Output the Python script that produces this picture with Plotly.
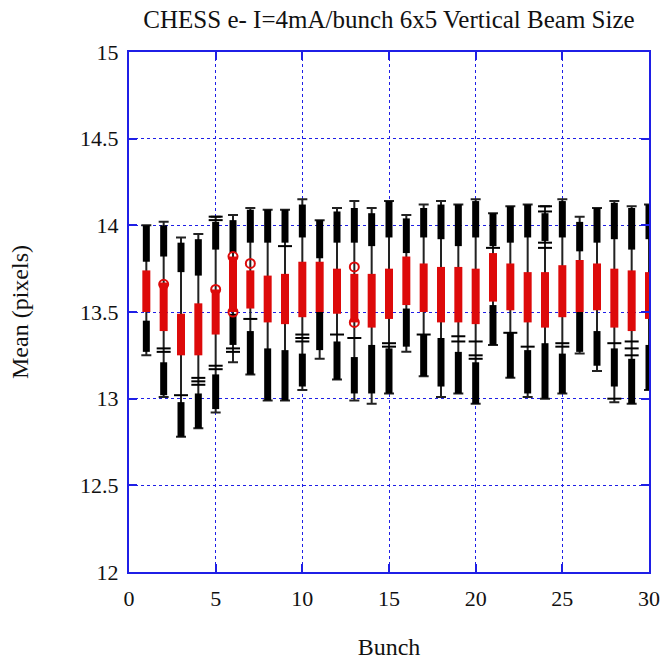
import plotly.graph_objects as go

bunch = list(range(1, 31))

top_hi = [14.00, 14.00, 13.90, 13.92, 14.02, 14.03, 14.09, 14.09, 14.09, 14.12,
          14.03, 14.08, 14.10, 14.07, 14.14, 14.04, 14.10, 14.12, 14.12, 14.14,
          14.07, 14.11, 14.12, 14.07, 14.14, 14.02, 14.10, 14.13, 14.10, 14.12]
top_lo = [13.79, 13.82, 13.73, 13.71, 13.86, 13.84, 13.90, 13.90, 13.90, 13.93,
          13.81, 13.90, 13.90, 13.88, 13.93, 13.84, 13.93, 13.92, 13.88, 13.93,
          13.88, 13.90, 13.93, 13.91, 13.93, 13.85, 13.90, 13.92, 13.86, 13.92]
red_hi = [13.74, 13.67, 13.49, 13.55, 13.63, 13.82, 13.74, 13.71, 13.72, 13.79,
          13.79, 13.75, 13.72, 13.72, 13.75, 13.82, 13.78, 13.76, 13.76, 13.75,
          13.84, 13.78, 13.73, 13.73, 13.77, 13.80, 13.78, 13.75, 13.74, 13.73]
red_lo = [13.50, 13.39, 13.25, 13.25, 13.37, 13.50, 13.52, 13.44, 13.43, 13.47,
          13.50, 13.49, 13.44, 13.41, 13.46, 13.54, 13.50, 13.44, 13.44, 13.43,
          13.56, 13.51, 13.44, 13.41, 13.47, 13.50, 13.51, 13.41, 13.39, 13.46]
bot_hi = [13.45, 13.21, 12.98, 13.03, 13.14, 13.49, 13.39, 13.29, 13.28, 13.26,
          13.50, 13.33, 13.24, 13.31, 13.29, 13.52, 13.37, 13.35, 13.27, 13.21,
          13.54, 13.38, 13.28, 13.32, 13.26, 13.50, 13.39, 13.29, 13.23, 13.31]
bot_lo = [13.27, 13.02, 12.78, 12.83, 12.94, 13.31, 13.14, 12.99, 12.99, 13.07,
          13.28, 13.11, 13.03, 13.03, 13.03, 13.30, 13.13, 13.07, 13.03, 12.97,
          13.31, 13.12, 13.03, 13.00, 13.03, 13.27, 13.19, 13.07, 12.97, 13.05]
line_hi = [14.00, 14.02, 13.93, 13.95, 14.05, 14.06, 14.10, 14.09, 14.09, 14.15,
           14.03, 14.10, 14.14, 14.10, 14.14, 14.06, 14.12, 14.14, 14.12, 14.15,
           14.07, 14.11, 14.12, 14.11, 14.15, 14.05, 14.10, 14.14, 14.11, 14.12]
line_lo = [13.25, 13.01, 12.78, 12.83, 12.92, 13.21, 13.14, 12.99, 12.99, 13.05,
           13.23, 13.11, 12.99, 12.97, 13.03, 13.27, 13.13, 13.01, 13.03, 12.97,
           13.31, 13.12, 13.01, 13.00, 13.03, 13.26, 13.16, 12.98, 12.97, 13.05]

extra_cap_x = [2, 2, 3, 4, 4, 4, 5, 5, 5, 5, 6, 6, 7, 9, 10, 10, 10, 12, 13, 15, 15,
               17, 19, 19, 20, 20, 20, 21, 22, 23, 24, 24, 24, 24, 25, 25, 28, 28, 29, 29, 29]
extra_cap_y = [13.29, 13.27, 13.02, 13.12, 13.10, 13.08, 14.05, 14.03, 13.19, 13.17,
               13.29, 13.27, 13.46, 13.88, 13.37, 13.35, 13.33, 13.37, 13.35, 13.32, 13.30,
               13.37, 13.36, 13.33, 13.33, 13.25, 13.23, 13.87, 13.38, 13.30, 14.11, 14.08,
               13.90, 13.87, 13.32, 13.30, 13.32, 13.00, 13.33, 13.29, 13.25]

circle_x = [2, 5, 6, 6, 7, 13, 13]
circle_y = [13.66, 13.63, 13.82, 13.50, 13.78, 13.76, 13.44]


def seg(xs, lo, hi):
    X, Y = [], []
    for x, a, b in zip(xs, lo, hi):
        X += [x, x, None]
        Y += [a, b, None]
    return X, Y


fig = go.Figure()

red = "#dd0a0a"

# thin range line with caps
mid = [(a + b) / 2 for a, b in zip(line_lo, line_hi)]
fig.add_trace(go.Scatter(
    x=bunch, y=mid, mode="markers",
    marker=dict(size=1, opacity=0),
    error_y=dict(type="data", symmetric=False,
                 array=[h - m for h, m in zip(line_hi, mid)],
                 arrayminus=[m - l for m, l in zip(mid, line_lo)],
                 color="#222222", thickness=2, width=5),
    hoverinfo="skip"))

fig.add_trace(go.Scatter(x=extra_cap_x, y=extra_cap_y, mode="markers",
                         marker=dict(symbol="line-ew", size=10, color="black",
                                     line=dict(color="black", width=2)),
                         hoverinfo="skip"))

X, Y = seg(bunch, top_lo, top_hi)
fig.add_trace(go.Scatter(x=X, y=Y, mode="lines",
                         line=dict(color="black", width=7)))
X, Y = seg(bunch, bot_lo, bot_hi)
fig.add_trace(go.Scatter(x=X, y=Y, mode="lines",
                         line=dict(color="black", width=7)))
X, Y = seg(bunch, red_lo, red_hi)
fig.add_trace(go.Scatter(x=X, y=Y, mode="lines",
                         line=dict(color=red, width=8)))
fig.add_trace(go.Scatter(x=circle_x, y=circle_y, mode="markers",
                         marker=dict(symbol="circle-open", size=9, color=red,
                                     line=dict(color=red, width=2))))

blue = "#1f1fe6"
font = "Liberation Serif"
axis_common = dict(
    showline=True, linecolor=blue, linewidth=2, mirror="ticks",
    ticks="inside", ticklen=8, tickcolor=blue, tickwidth=2,
    showgrid=True, gridcolor=blue, griddash="dot", gridwidth=1,
    zeroline=False, automargin=False,
    tickfont=dict(family=font, size=22, color="#111111"),
)

fig.update_layout(
    width=660, height=660,
    margin=dict(l=129, r=11, t=52, b=88),
    paper_bgcolor="white", plot_bgcolor="white",
    showlegend=False,
    title=dict(text="CHESS e- I=4mA/bunch 6x5 Vertical Beam Size",
               x=(140 + 638) / 2 / 660, xanchor="center",
               y=1 - 19 / 660, yanchor="middle",
               font=dict(family=font, size=25, color="#111111")),
    xaxis=dict(range=[0, 30], tickvals=[0, 5, 10, 15, 20, 25, 30],
               ticklabelstandoff=6,
               title=dict(text="Bunch", standoff=28,
                          font=dict(family=font, size=24, color="#111111")),
               **axis_common),
    yaxis=dict(range=[12, 15], tickvals=[12, 12.5, 13, 13.5, 14, 14.5, 15],
               ticktext=["12", "12.5", "13", "13.5", "14", "14.5", "15"],
               ticklabelstandoff=4,
               title=dict(text="Mean (pixels)", standoff=45,
                          font=dict(family=font, size=24, color="#111111")),
               **axis_common),
)

fig.write_html("out.html")
